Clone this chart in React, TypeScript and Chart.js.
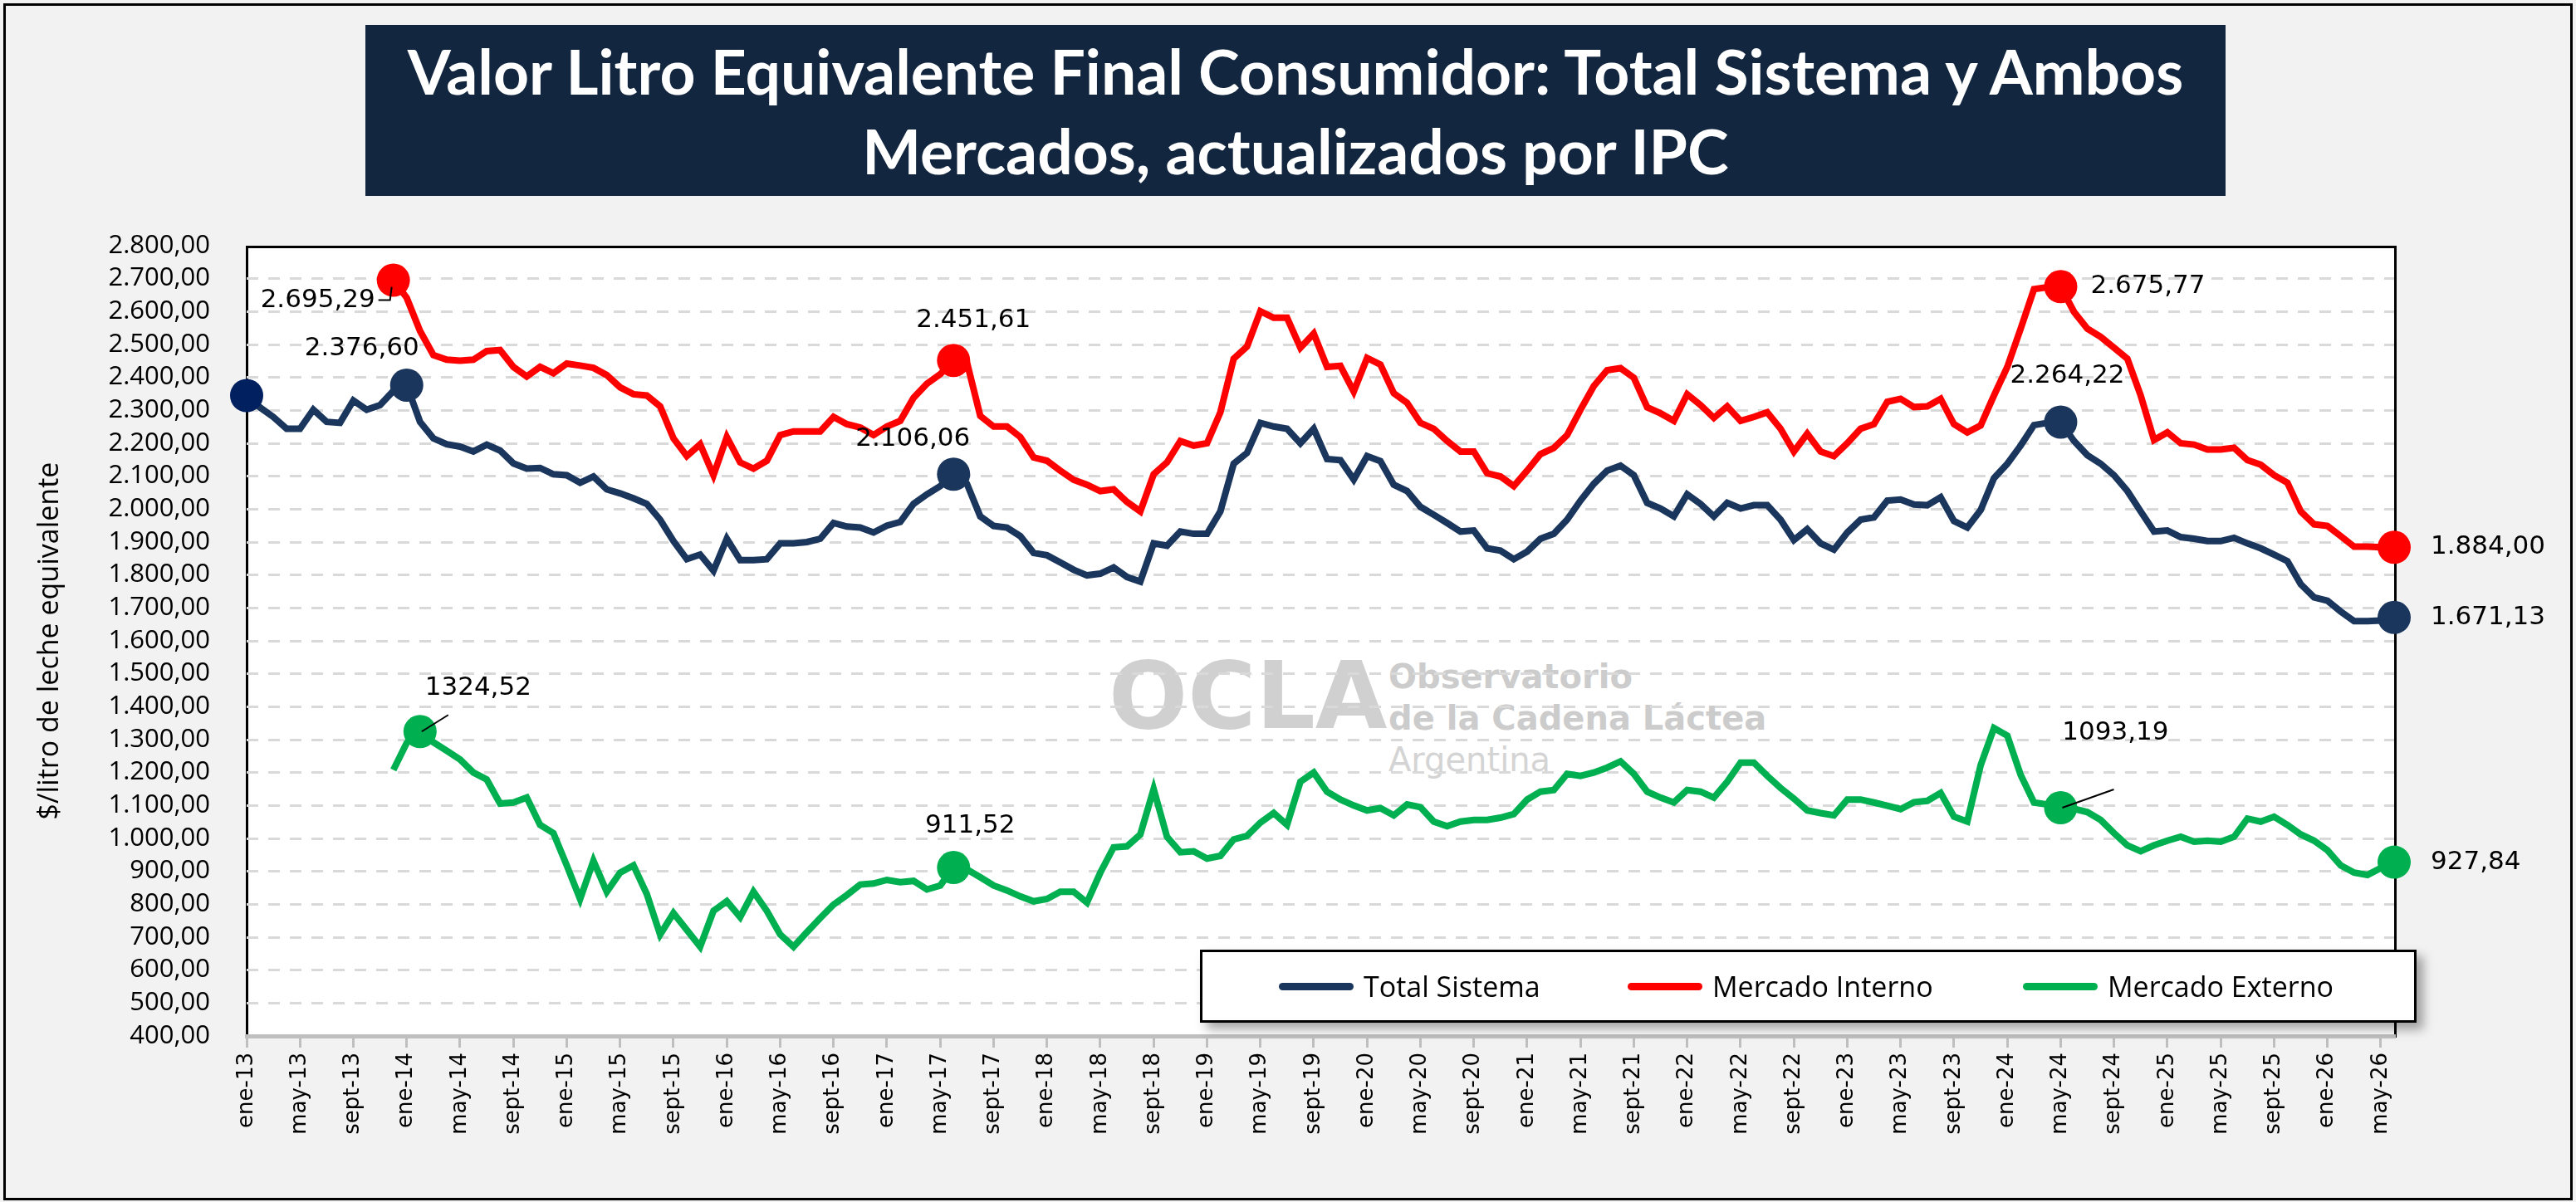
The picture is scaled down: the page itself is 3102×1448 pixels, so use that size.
import React, { useEffect, useRef } from "react";
import { Chart, registerables } from "chart.js";
Chart.register(...registerables);

const MONTHS = ["ene", "feb", "mar", "abr", "may", "jun", "jul", "ago", "sept", "oct", "nov", "dic"];
const START_YEAR = 13;
const N = 162;
const labels: string[] = Array.from({ length: N }, (_, i) => `${MONTHS[i % 12]}-${START_YEAR + Math.floor(i / 12)}`);

const totalSistema = [
  2345, 2309, 2280, 2244, 2244, 2302, 2265, 2262, 2330, 2302, 2316, 2359, 2376.6,
  2265, 2215, 2197, 2190, 2175, 2196, 2178, 2139, 2123, 2125, 2106, 2103,
  2080, 2099, 2060, 2048, 2033, 2016, 1968, 1903, 1848, 1862, 1813, 1910,
  1845, 1845, 1848, 1896, 1896, 1900, 1910, 1958, 1947, 1944, 1929, 1950,
  1961, 2016, 2045, 2070, 2106.06, 2077, 1978, 1949, 1944, 1918, 1867, 1860,
  1838, 1816, 1799, 1804, 1823, 1794, 1780, 1896, 1889, 1932, 1925, 1925,
  1993, 2138, 2171, 2262, 2251, 2244, 2200, 2244, 2152, 2149, 2090, 2161,
  2146, 2074, 2055, 2007, 1983, 1958, 1932, 1935, 1881, 1874, 1848, 1871,
  1910, 1925, 1968, 2026, 2077, 2117, 2132, 2103, 2019, 2002, 1978, 2045,
  2016, 1978, 2019, 2002, 2012, 2012, 1968, 1906, 1939, 1896, 1877, 1929,
  1968, 1975, 2026, 2029, 2014, 2012, 2036, 1964, 1944, 1997, 2094, 2138,
  2193, 2255, 2262, 2264.22, 2207, 2164, 2138, 2103, 2055, 1993, 1932, 1935,
  1915, 1910, 1903, 1903, 1913, 1896, 1881, 1862, 1842, 1772, 1732, 1722,
  1689, 1660, 1660, 1662, 1671.13,
];

const mercadoInterno = [
  null, null, null, null, null, null, null, null, null, null, null,
  2695.29, 2642, 2541, 2468, 2454, 2451, 2454, 2480, 2483, 2432, 2403, 2432, 2413, 2442,
  2436, 2429, 2407, 2370, 2349, 2345, 2312, 2215, 2161, 2197, 2103, 2219,
  2142, 2123, 2147, 2225, 2236, 2236, 2236, 2280, 2258, 2248, 2225, 2251,
  2268, 2338, 2381, 2410, 2451.61, 2446, 2283, 2251, 2251, 2219, 2157, 2147,
  2117, 2089, 2074, 2055, 2060, 2022, 1993, 2106, 2142, 2207, 2193, 2200,
  2294, 2457, 2494, 2601, 2581, 2581, 2490, 2533, 2432, 2435, 2357, 2459,
  2439, 2352, 2323, 2262, 2244, 2207, 2175, 2175, 2109, 2099, 2070, 2117,
  2167, 2186, 2225, 2302, 2374, 2422, 2428, 2399, 2309, 2291, 2268, 2349,
  2316, 2277, 2312, 2268, 2280, 2294, 2244, 2175, 2229, 2175, 2161, 2200,
  2244, 2258, 2326, 2335, 2310, 2312, 2335, 2258, 2233, 2254, 2345, 2432,
  2548, 2668, 2674, 2675.77, 2599, 2548, 2523, 2490, 2457, 2345, 2210, 2233,
  2200, 2196, 2181, 2181, 2186, 2149, 2135, 2103, 2080, 1993, 1954, 1949,
  1918, 1886, 1886, 1884, 1884.0,
];

const mercadoExterno = [
  null, null, null, null, null, null, null, null, null, null, null,
  1208, 1290, 1324.52, 1292, 1266, 1240, 1200, 1179, 1106, 1109, 1124, 1041, 1016, 918,
  816, 932, 838, 896, 918, 831, 708, 773, 722, 671, 780, 809,
  761, 838, 780, 708, 671, 715, 758, 799, 828, 860, 863, 874,
  867, 871, 845, 857, 911.52, 906, 882, 857, 842, 824, 809, 816,
  838, 838, 805, 896, 973, 976, 1012, 1150, 1005, 958, 961, 939,
  947, 997, 1008, 1048, 1077, 1041, 1172, 1200, 1142, 1118, 1100, 1085,
  1092, 1070, 1103, 1095, 1051, 1037, 1051, 1056, 1056, 1063, 1074, 1118,
  1142, 1147, 1196, 1190, 1200, 1215, 1234, 1196, 1142, 1124, 1109, 1147,
  1142, 1124, 1172, 1230, 1230, 1190, 1153, 1121, 1085, 1077, 1070, 1118,
  1118, 1109, 1099, 1089, 1110, 1114, 1138, 1066, 1051, 1222, 1335, 1312,
  1193, 1109, 1103, 1093.19, 1090, 1080, 1056, 1016, 979, 961, 979, 993,
  1005, 990, 993, 990, 1005, 1060, 1051, 1066, 1041, 1012, 993, 964,
  918, 896, 889, 910, 927.84,
];

const markTotal = [0, 12, 53, 136, 161];
const markInterno = [11, 53, 136, 161];
const markExterno = [13, 53, 136, 161];

const Y_MIN = 400;
const Y_MAX = 2800;
const Y_STEP = 100;

function fmt(v: number): string {
  const [a, b] = v.toFixed(2).split(".");
  return a.replace(/\B(?=(\d{3})+(?!\d))/g, ".") + "," + b;
}
function fmtPlain(v: number): string {
  return v.toFixed(2).replace(".", ",");
}

type Lab = { ds: number; i: number; text: string; dx: number; dy: number; align: CanvasTextAlign; leader?: [number, number, number, number] };
const dataLabels: Lab[] = [
  { ds: 1, i: 11, text: fmt(mercadoInterno[11] as number), dx: -22, dy: 24, align: "right", leader: [-2, 8, -4, 24] },
  { ds: 0, i: 12, text: fmt(totalSistema[12]), dx: -54, dy: -44, align: "center" },
  { ds: 1, i: 53, text: fmt(mercadoInterno[53] as number), dx: 24, dy: -48, align: "center" },
  { ds: 0, i: 53, text: fmt(totalSistema[53]), dx: -49, dy: -42, align: "center" },
  { ds: 1, i: 136, text: fmt(mercadoInterno[136] as number), dx: 36, dy: 0, align: "left" },
  { ds: 0, i: 136, text: fmt(totalSistema[136]), dx: 8, dy: -56, align: "center" },
  { ds: 1, i: 161, text: fmt(mercadoInterno[161] as number), dx: 44, dy: 0, align: "left" },
  { ds: 0, i: 161, text: fmt(totalSistema[161]), dx: 44, dy: 0, align: "left" },
  { ds: 2, i: 13, text: fmtPlain(mercadoExterno[13] as number), dx: 70, dy: -52, align: "center", leader: [2, 0, 34, -20] },
  { ds: 2, i: 53, text: fmtPlain(mercadoExterno[53] as number), dx: 20, dy: -50, align: "center" },
  { ds: 2, i: 136, text: fmtPlain(mercadoExterno[136] as number), dx: 66, dy: -90, align: "center", leader: [2, 0, 64, -22] },
  { ds: 2, i: 161, text: fmtPlain(mercadoExterno[161] as number), dx: 44, dy: 0, align: "left" },
];

const labelPlugin = {
  id: "dataLabels",
  afterDatasetsDraw(chart: any) {
    const ctx = chart.ctx;
    ctx.save();
    ctx.font = "31px 'DejaVu Sans'";
    ctx.fillStyle = "#000";
    ctx.textBaseline = "middle";
    for (const l of dataLabels) {
      const el = chart.getDatasetMeta(l.ds).data[l.i];
      if (!el) continue;
      if (l.leader) {
        ctx.strokeStyle = "#000";
        ctx.lineWidth = 2;
        ctx.beginPath();
        ctx.moveTo(el.x + l.leader[0], el.y + l.leader[1]);
        ctx.lineTo(el.x + l.leader[2], el.y + l.leader[3]);
        if (l.ds === 1) ctx.lineTo(el.x - 18, el.y + l.leader[3]);
        ctx.stroke();
      }
      ctx.textAlign = l.align;
      ctx.fillText(l.text, el.x + l.dx, el.y + l.dy);
    }
    ctx.restore();
  },
};

const NAVY = "#1b365d";
const RED = "#ff0000";
const GREEN = "#00b050";

function radiusFor(marks: number[]) {
  return (c: any) => (marks.includes(c.dataIndex) ? 20 : 0);
}

export default function App() {
  const ref = useRef<HTMLCanvasElement | null>(null);
  useEffect(() => {
    document.body.style.margin = "0";
    const chart = new Chart(ref.current as HTMLCanvasElement, {
      type: "line",
      data: {
        labels,
        datasets: [
          {
            label: "Total Sistema",
            data: totalSistema,
            borderColor: NAVY,
            backgroundColor: (c: any) => (c.dataIndex === 0 ? "#002060" : NAVY),
            borderWidth: 8,
            pointRadius: radiusFor(markTotal),
            pointBorderWidth: 0,
          },
          {
            label: "Mercado Interno",
            data: mercadoInterno,
            borderColor: RED,
            backgroundColor: RED,
            borderWidth: 8,
            pointRadius: radiusFor(markInterno),
            pointBorderWidth: 0,
          },
          {
            label: "Mercado Externo",
            data: mercadoExterno,
            borderColor: GREEN,
            backgroundColor: GREEN,
            borderWidth: 8,
            pointRadius: radiusFor(markExterno),
            pointBorderWidth: 0,
          },
        ],
      },
      options: {
        animation: false,
        responsive: false,
        events: [],
        layout: { padding: { left: 40, top: 296, right: 219, bottom: 40 } },
        plugins: { legend: { display: false }, tooltip: { enabled: false } },
        scales: {
          x: {
            offset: false,
            afterFit: (s: any) => { s.height = 160; },
            grid: { display: true, drawOnChartArea: false, tickLength: 14, color: "#bfbfbf", lineWidth: 3 },
            border: { display: true, color: "#bfbfbf", width: 5 },
            ticks: {
              autoSkip: false,
              maxRotation: 90,
              minRotation: 90,
              padding: 6,
              color: "#000",
              font: { family: "'DejaVu Sans'", size: 26 },
              callback: (_v: any, i: number) => (i % 4 === 0 ? labels[i] : null),
            },
          },
          y: {
            min: Y_MIN,
            max: Y_MAX,
            afterFit: (s: any) => { s.width = 257; },
            grid: {
              color: (c: any) => (c.tick && (c.tick.value === Y_MAX || c.tick.value === Y_MIN) ? "rgba(0,0,0,0)" : "#d9d9d9"),
              lineWidth: 3,
              drawTicks: false,
            },
            border: { display: false, dash: [14, 12] },
            ticks: {
              stepSize: Y_STEP,
              autoSkip: false,
              padding: 44,
              color: "#000",
              font: { family: "'Open Sans'", size: 31 },
              callback: (v: any) => fmt(Number(v)),
            },
            title: {
              display: true,
              text: "$/litro de leche equivalente",
              color: "#000",
              font: { family: "'Open Sans'", size: 34 },
              padding: { top: 0, bottom: 0 },
            },
          },
        },
      },
      plugins: [labelPlugin],
    } as any);
    return () => chart.destroy();
  }, []);

  const legendItem = (color: string, text: string, left: number) => (
    <div style={{ position: "absolute", left, top: 0, height: 82, display: "flex", alignItems: "center" }}>
      <div style={{ width: 90, height: 9, borderRadius: 5, background: color, marginRight: 12 }} />
      <span style={{ fontFamily: "'Open Sans'", fontSize: 34, color: "#000" }}>{text}</span>
    </div>
  );

  return (
    <div style={{ position: "relative", width: 3102, height: 1448, background: "#f2f2f2", overflow: "hidden" }}>
      <div style={{ position: "absolute", left: 4, top: 4, width: 3088, height: 1436, border: "3px solid #000" }} />
      <div style={{ position: "absolute", left: 296, top: 296, width: 2590, height: 954, background: "#fff", borderTop: "3px solid #000", borderRight: "3px solid #000", borderLeft: "3px solid #000", boxSizing: "border-box" }} />
      <div style={{ position: "absolute", left: 1335, top: 782, fontFamily: "'DejaVu Sans'", fontWeight: 700, fontSize: 112, color: "#d0d0d0", lineHeight: "112px" }}>OCLA</div>
      <div style={{ position: "absolute", left: 1672, top: 790, fontFamily: "'DejaVu Sans'", fontWeight: 700, fontSize: 40, color: "#cccccc", lineHeight: "50px" }}>
        Observatorio<br />de la Cadena Láctea<br /><span style={{ fontWeight: 400, color: "#d4d4d4" }}>Argentina</span>
      </div>
      <canvas ref={ref} width={3102} height={1448} style={{ position: "absolute", left: 0, top: 0, width: 3102, height: 1448 }} />
      <div style={{ position: "absolute", left: 440, top: 30, width: 2240, height: 206, background: "#12263f", color: "#fff", fontFamily: "Lato", fontWeight: 700, fontSize: 75, lineHeight: "96px", textAlign: "center", display: "flex", alignItems: "center", justifyContent: "center" }}>
        <div>Valor Litro Equivalente Final Consumidor: Total Sistema y Ambos<br />Mercados, actualizados por IPC</div>
      </div>
      <div style={{ position: "absolute", left: 1445, top: 1144, width: 1465, height: 88, background: "#fff", border: "3px solid #000", boxSizing: "border-box", boxShadow: "8px 8px 12px rgba(0,0,0,0.35)" }}>
        {legendItem(NAVY, "Total Sistema", 92)}
        {legendItem(RED, "Mercado Interno", 512)}
        {legendItem(GREEN, "Mercado Externo", 988)}
      </div>
    </div>
  );
}
